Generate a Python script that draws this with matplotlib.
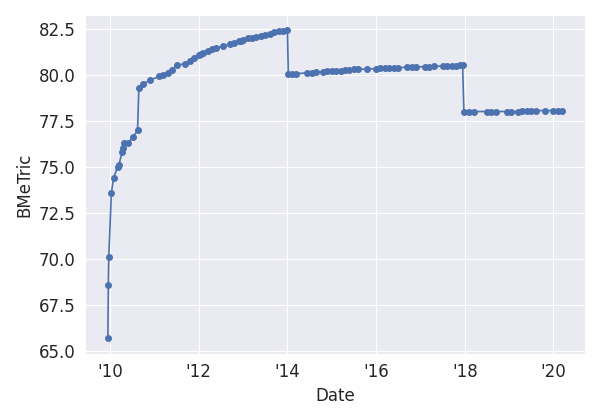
import numpy as np
import pandas as pd
import seaborn as sns
import matplotlib
matplotlib.use("Agg")
from matplotlib import pyplot as plt
import matplotlib.dates as mdates

# decimal years and metric values
years = [2009.95, 2009.96, 2009.97, 2010.03, 2010.08, 2010.17, 2010.2, 2010.27, 2010.29, 2010.32,
         2010.4, 2010.52, 2010.62, 2010.65, 2010.75, 2010.9, 2011.1, 2011.2, 2011.3, 2011.4,
         2011.5, 2011.7, 2011.8, 2011.9, 2012.0, 2012.05, 2012.1, 2012.2, 2012.3, 2012.4,
         2012.55, 2012.7, 2012.8, 2012.9, 2012.95, 2013.0, 2013.1, 2013.2, 2013.3, 2013.4,
         2013.5, 2013.6, 2013.7, 2013.8, 2013.9, 2014.0,
         2014.02, 2014.1, 2014.2, 2014.45, 2014.55, 2014.65, 2014.8, 2014.9, 2015.0, 2015.1,
         2015.2, 2015.3, 2015.4, 2015.5, 2015.6, 2015.8, 2016.0, 2016.1, 2016.2, 2016.3,
         2016.4, 2016.5, 2016.7, 2016.8, 2016.9, 2017.1, 2017.2, 2017.3, 2017.5, 2017.6,
         2017.7, 2017.8, 2017.9, 2017.95,
         2017.98, 2018.1, 2018.2, 2018.5, 2018.6, 2018.7, 2018.95, 2019.05, 2019.2, 2019.3,
         2019.4, 2019.5, 2019.6, 2019.8, 2020.0, 2020.1, 2020.2]
values = [65.7, 68.6, 70.1, 73.6, 74.4, 75.0, 75.1, 75.8, 76.0, 76.3,
          76.3, 76.6, 77.0, 79.3, 79.5, 79.7, 79.9, 80.0, 80.1, 80.25,
          80.5, 80.6, 80.75, 80.9, 81.05, 81.1, 81.2, 81.3, 81.4, 81.45,
          81.55, 81.65, 81.7, 81.8, 81.85, 81.9, 82.0, 82.0, 82.05, 82.1,
          82.15, 82.2, 82.3, 82.35, 82.35, 82.4,
          80.05, 80.05, 80.05, 80.1, 80.1, 80.12, 80.15, 80.18, 80.2, 80.2,
          80.22, 80.25, 80.25, 80.28, 80.3, 80.3, 80.33, 80.35, 80.35, 80.35,
          80.37, 80.38, 80.4, 80.4, 80.42, 80.43, 80.44, 80.45, 80.47, 80.48,
          80.48, 80.48, 80.5, 80.5,
          77.95, 77.95, 78.0, 78.0, 78.0, 78.0, 78.0, 78.0, 78.0, 78.02,
          78.03, 78.05, 78.05, 78.05, 78.05, 78.05, 78.05]


def toDate(y):
    yr = int(y)
    start = pd.Timestamp(year=yr, month=1, day=1)
    return start + pd.Timedelta(days=(y - yr) * 365.25)


dates = [toDate(y) for y in years]

sns.set_style("darkgrid")
fig, ax = plt.subplots(figsize=(6, 4.2), dpi=100)
ax.plot(dates, values, marker='o', markersize=4, linewidth=1.2, color='#4c72b0')
ax.xaxis.set_major_locator(mdates.YearLocator(2))
ax.xaxis.set_major_formatter(mdates.DateFormatter("'%y"))
ax.set_xlabel('Date', fontsize=12)
ax.set_ylabel('BMeTric', fontsize=12)
ax.set_yticks(np.arange(65, 83, 2.5))
ax.tick_params(labelsize=12)
fig.tight_layout()
fig.savefig('out.png')
